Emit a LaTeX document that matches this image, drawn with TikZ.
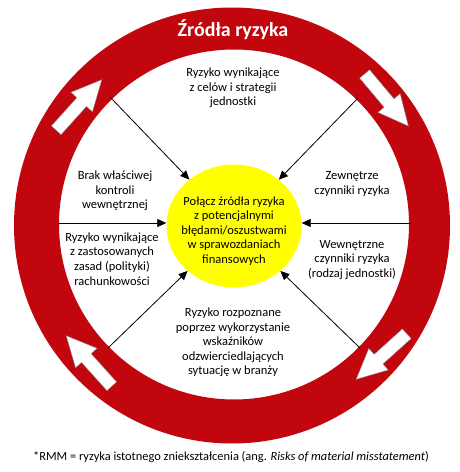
\documentclass[tikz,border=0pt]{standalone}
\usepackage{fontspec}
\setmainfont{Carlito}
\usetikzlibrary{shapes.geometric,arrows.meta}
\definecolor{ringred}{RGB}{194,6,14}
\definecolor{coreyellow}{RGB}{255,255,0}
\begin{document}
\begin{tikzpicture}[x=1pt,y=-1pt,
  txt/.style={align=center, font=\fontsize{12.5}{14.6}\selectfont, inner sep=0pt},
  conn/.style={line width=0.8pt, -{Triangle[length=9pt,width=8pt]}},
  blockarrow/.style={fill=white, draw=black!45, line width=0.4pt}]
\useasboundingbox (0,0) rectangle (459,472);
\fill[white] (0,0) rectangle (459,472);
% ring
\fill[ringred, even odd rule] (232,225.5) circle[radius=218pt] (234,224.5) circle[radius=175pt];
% block arrows on the ring
\foreach \cx/\cy/\ang in {79/105/48, 386.5/100/-50, 381.5/356.5/-138, 89/361/132} {
  \draw[blockarrow, shift={(\cx,\cy)}, rotate=\ang]
    (-34,-6.5) -- (4,-6.5) -- (4,-14.5) -- (34,0) -- (4,14.5) -- (4,6.5) -- (-34,6.5) -- cycle;
}
% title
\node[font=\bfseries\fontsize{20}{22}\selectfont, text=white] (title) at (233,30) {Źródła ryzyka};
% core
\node[ellipse, fill=coreyellow, minimum width=135pt, minimum height=123pt, inner sep=0pt] (core) at (234,226) {};
\node[txt] (coretxt) at (234,231) {Połącz źródła ryzyka\\z potencjalnymi\\błędami/oszustwami\\w sprawozdaniach\\finansowych};
% texts
\node[txt] (top) at (233,88) {Ryzyko wynikające\\z celów i strategii\\jednostki};
\node[txt] (brak) at (115,191) {Brak właściwej\\kontroli\\wewnętrznej};
\node[txt] (zewn) at (352,184) {Zewnętrze\\czynniki ryzyka};
\node[txt] (zasad) at (112,259) {Ryzyko wynikające\\z zastosowanych\\zasad (polityki)\\rachunkowości};
\node[txt] (wewn) at (352,260) {Wewnętrzne\\czynniki ryzyka\\(rodzaj jednostki)};
\node[txt] (bottom) at (233,342.5) {Ryzyko rozpoznane\\poprzez wykorzystanie\\wskaźników\\odzwierciedlających\\sytuację w branży};
% connector start points on the ring
\coordinate (pL) at (58,223);
\coordinate (pR) at (411,223);
\coordinate (pUL) at (110,97);
\coordinate (pUR) at (358,98);
\coordinate (pLL) at (108,348);
\coordinate (pLR) at (360,348);
\draw[conn] (pL) -- (pL -| core.west);
\draw[conn] (pR) -- (pR -| core.east);
\draw[conn] (pUL) -- (core);
\draw[conn] (pUR) -- (core);
\draw[conn] (pLL) -- (core);
\draw[conn] (pLR) -- (core);
% footnote
\node[font=\fontsize{12.4}{14}\selectfont, inner sep=0pt] (note) at (231,457) {*RMM = ryzyka istotnego zniekształcenia (ang. \textit{Risks of material misstatement})};
\end{tikzpicture}
\end{document}
